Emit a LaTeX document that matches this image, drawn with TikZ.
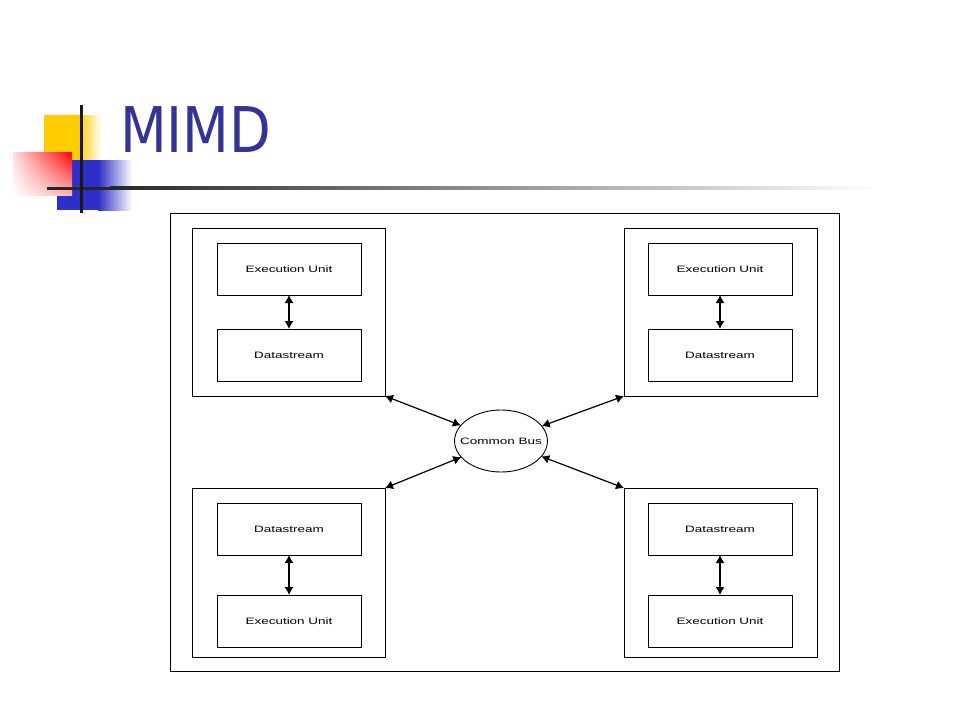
\documentclass[tikz,border=0pt]{standalone}
\usepackage{fontspec}
\setmainfont{Liberation Sans}
\newfontfamily\titlefont{DejaVu Sans}
\usetikzlibrary{shapes.geometric,arrows.meta,shadings}
\definecolor{titleblue}{RGB}{51,51,153}
\definecolor{decoyellow}{RGB}{255,204,0}
\definecolor{decoblue}{RGB}{46,46,200}
\newcommand{\mylbl}[1]{\scalebox{1.45}[1]{#1}}
\begin{document}
\begin{tikzpicture}[x=1pt,y=-1pt,
  outerbox/.style={draw=black,line width=0.9pt,minimum width=193pt,minimum height=168pt,inner sep=0pt,outer sep=0pt},
  innerbox/.style={draw=black,line width=0.9pt,minimum width=144pt,minimum height=52pt,inner sep=0pt,outer sep=0pt,font=\fontsize{9.3}{10}\selectfont},
  busnode/.style={draw=black,ellipse,line width=0.9pt,minimum width=90pt,minimum height=62pt,inner xsep=-8pt,inner ysep=0pt,outer sep=0pt,font=\fontsize{9.3}{10}\selectfont},
  link/.style={line width=1.2pt,{Latex[length=8pt,width=9pt]}-{Latex[length=8pt,width=9pt]}}
]
\useasboundingbox (0,0) rectangle (960,720);
\fill[white] (0,0) rectangle (960,720);
% decoration
\fill[decoyellow] (44,115) rectangle (78,160);
\shade[left color=decoyellow,right color=white] (78,115) rectangle (102,160);
\fill[decoblue] (57,160) rectangle (98,210);
\shade[left color=decoblue,right color=white] (98,160) rectangle (132,210);
\shade[shading=bilinear interpolation,upper left=red!12,upper right=red,lower left=white,lower right=red!30] (13,152) rectangle (72,195);
\fill[black!85] (47,186.5) rectangle (110,189.5);
\shade[left color=black!85,right color=white] (110,186.5) rectangle (875,189.5);
\fill[black!90] (80,105) rectangle (82.5,213);
% title
\node[anchor=base west,inner sep=0pt,text=titleblue,font=\titlefont\fontsize{63}{63}\selectfont] (title) at (120,152) {\scalebox{0.86}[1]{MIMD}};
% frame
\draw[line width=0.9pt] (170,213) rectangle (839,671);
% boxes
\node[outerbox] (tl) at (288.5,312) {};
\node[outerbox] (tr) at (720.5,312) {};
\node[outerbox,minimum height=169pt] (bl) at (288.5,572.5) {};
\node[outerbox,minimum height=169pt] (br) at (720.5,572.5) {};
\node[innerbox] (tleu) at (289,269) {\mylbl{Execution Unit}};
\node[innerbox] (tlds) at (289,355) {\mylbl{Datastream}};
\node[innerbox] (treu) at (720,269) {\mylbl{Execution Unit}};
\node[innerbox] (trds) at (720,355) {\mylbl{Datastream}};
\node[innerbox] (blds) at (289,529) {\mylbl{Datastream}};
\node[innerbox] (bleu) at (289,621) {\mylbl{Execution Unit}};
\node[innerbox] (brds) at (720,529) {\mylbl{Datastream}};
\node[innerbox] (breu) at (720,621) {\mylbl{Execution Unit}};
\node[busnode] (bus) at (501,441) {\mylbl{Common Bus}};
% connectors
\draw[link] (tleu) -- (tlds);
\draw[link] (treu) -- (trds);
\draw[link] (blds) -- (bleu);
\draw[link] (brds) -- (breu);
\draw[link] (tl.south east) -- (bus);
\draw[link] (tr.south west) -- (bus);
\draw[link] (bl.north east) -- (bus);
\draw[link] (br.north west) -- (bus);
\end{tikzpicture}
\end{document}
